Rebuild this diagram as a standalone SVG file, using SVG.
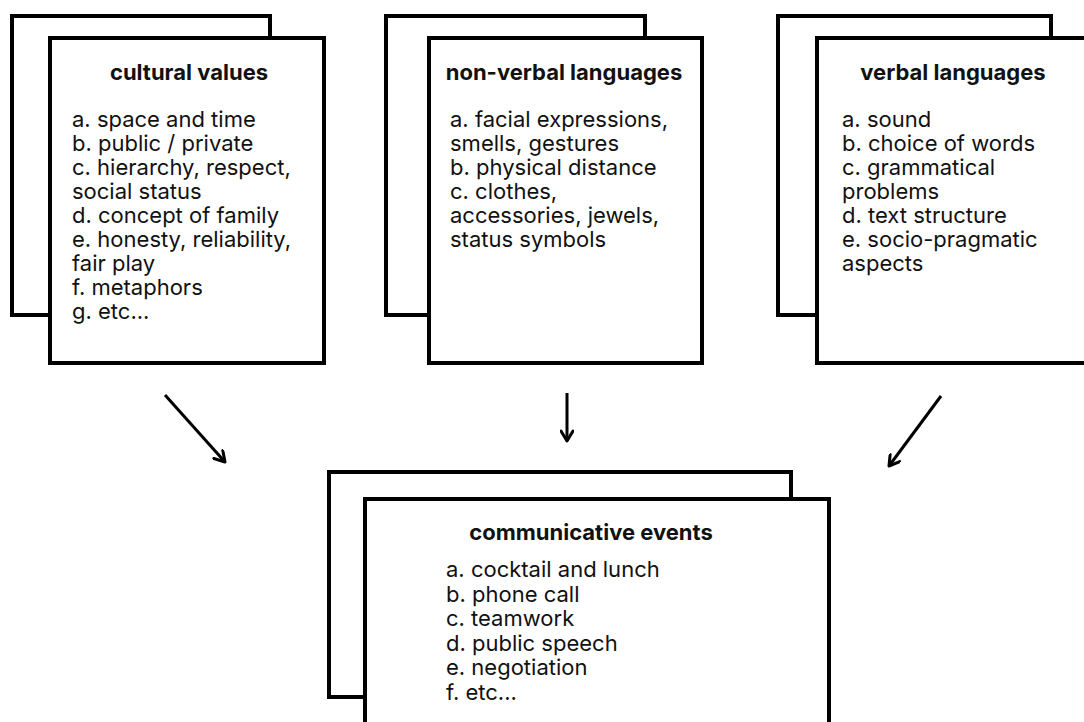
<svg xmlns="http://www.w3.org/2000/svg" width="1084" height="722" viewBox="0 0 1084 722">
<defs>
<style>
.card{fill:#fff;stroke:#000;stroke-width:4}
.title{font-family:Inter,"Liberation Sans",sans-serif;font-weight:700;font-size:22px;fill:#111;text-anchor:middle}
.body{font-family:Inter,"Liberation Sans",sans-serif;font-size:22px;fill:#111}
.conn{stroke:#000;stroke-width:3;fill:none}
</style>
<marker id="ah" viewBox="0 0 14 14" refX="12" refY="7" markerWidth="14" markerHeight="14" markerUnits="userSpaceOnUse" orient="auto">
<path d="M2,1 L12,7 L2,13" fill="none" stroke="#000" stroke-width="3" stroke-linecap="round" stroke-linejoin="round"/>
</marker>
</defs>
<rect width="1084" height="722" fill="#fff"/>
<g id="cultural-values">
<rect class="card" x="12" y="16" width="258" height="299"/>
<rect class="card" x="50" y="38" width="274" height="325"/>
<text class="title" x="189" y="80">cultural values</text>
<text class="body"><tspan x="72" y="127">a. space and time</tspan><tspan x="72" y="151">b. public / private</tspan><tspan x="72" y="175">c. hierarchy, respect,</tspan><tspan x="72" y="199">social status</tspan><tspan x="72" y="223">d. concept of family</tspan><tspan x="72" y="247">e. honesty, reliability,</tspan><tspan x="72" y="271">fair play</tspan><tspan x="72" y="295">f. metaphors</tspan><tspan x="72" y="319">g. etc...</tspan></text>
</g>
<g id="non-verbal-languages">
<rect class="card" x="386" y="16" width="259" height="299"/>
<rect class="card" x="429" y="38" width="273" height="325"/>
<text class="title" x="564" y="80">non-verbal languages</text>
<text class="body"><tspan x="450" y="127">a. facial expressions,</tspan><tspan x="450" y="151">smells, gestures</tspan><tspan x="450" y="175">b. physical distance</tspan><tspan x="450" y="199">c. clothes,</tspan><tspan x="450" y="223">accessories, jewels,</tspan><tspan x="450" y="247">status symbols</tspan></text>
</g>
<g id="verbal-languages">
<rect class="card" x="778" y="16" width="273" height="299"/>
<rect class="card" x="817" y="38" width="280" height="325"/>
<text class="title" x="953" y="80">verbal languages</text>
<text class="body"><tspan x="842" y="127">a. sound</tspan><tspan x="842" y="151">b. choice of words</tspan><tspan x="842" y="175">c. grammatical</tspan><tspan x="842" y="199">problems</tspan><tspan x="842" y="223">d. text structure</tspan><tspan x="842" y="247">e. socio-pragmatic</tspan><tspan x="842" y="271">aspects</tspan></text>
</g>
<g id="communicative-events">
<rect class="card" x="329" y="472" width="462" height="225"/>
<rect class="card" x="365" y="499" width="464" height="240"/>
<text class="title" x="591" y="540">communicative events</text>
<text class="body"><tspan x="446" y="577">a. cocktail and lunch</tspan><tspan x="446" y="601.6">b. phone call</tspan><tspan x="446" y="626.2">c. teamwork</tspan><tspan x="446" y="650.8">d. public speech</tspan><tspan x="446" y="675.4">e. negotiation</tspan><tspan x="446" y="700">f. etc...</tspan></text>
</g>
<g id="connectors">
<line class="conn" x1="165" y1="395" x2="225" y2="462" marker-end="url(#ah)"/>
<line class="conn" x1="567" y1="393" x2="567" y2="441" marker-end="url(#ah)"/>
<line class="conn" x1="941" y1="396" x2="889" y2="466" marker-end="url(#ah)"/>
</g>
</svg>
